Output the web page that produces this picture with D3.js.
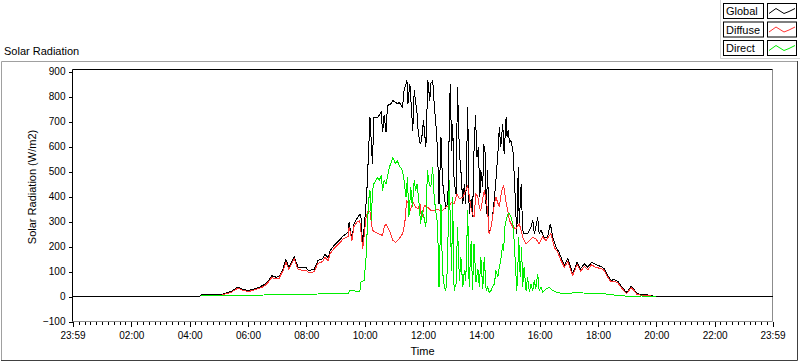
<!DOCTYPE html>
<html>
<head>
<meta charset="utf-8">
<script src="https://cdn.jsdelivr.net/npm/d3@7"></script>
<style>
  body { margin: 0; background: #fff; }
  svg { display: block; font-family: "Liberation Sans", Arial, sans-serif; font-size: 11px; }
</style>
</head>
<body>
<svg id="chart" width="800" height="361"></svg>
<script>
// series names + colours, as in the legend
const seriesNames = ['Global', 'Diffuse', 'Direct'];
const seriesColors = ['#000000', '#ff3333', '#00ee00'];

const yTicks = [-100, 0, 100, 200, 300, 400, 500, 600, 700, 800, 900];
const xTickLabels = ['23:59', '02:00', '04:00', '06:00', '08:00', '10:00', '12:00',
  '14:00', '16:00', '18:00', '20:00', '22:00', '23:59'];

// Global (W/m2)
const globalTime = ['00:00', '04:20', '04:23', '05:05', '05:11', '05:25', '05:39', '05:52', '06:02', '06:10',
  '06:23', '06:33', '06:41', '06:49', '06:58', '07:04', '07:12', '07:18', '07:24', '07:35',
  '07:43', '07:49', '07:59', '08:05', '08:16', '08:24', '08:34', '08:38', '08:45', '08:49',
  '08:57', '09:07', '09:17', '09:26', '09:28', '09:34', '09:38', '09:44', '09:48', '09:52',
  '09:56', '09:59', '10:04', '10:07', '10:11', '10:16', '10:19', '10:27', '10:34', '10:37',
  '10:40', '10:44', '10:47', '10:54', '10:58', '11:01', '11:08', '11:11', '11:18', '11:21',
  '11:27', '11:29', '11:33', '11:39', '11:42', '11:48', '11:50', '11:54', '11:57', '12:01',
  '12:06', '12:10', '12:14', '12:16', '12:20', '12:23', '12:27', '12:30', '12:33', '12:37',
  '12:40', '12:44', '12:47', '12:51', '12:54', '12:56', '12:59', '13:01', '13:04', '13:08',
  '13:11', '13:15', '13:18', '13:22', '13:25', '13:28', '13:32', '13:35', '13:39', '13:42',
  '13:45', '13:48', '13:51', '13:54', '13:57', '13:59', '14:03', '14:05', '14:08', '14:10',
  '14:13', '14:16', '14:20', '14:23', '14:27', '14:30', '14:34', '14:37', '14:40', '14:44',
  '14:47', '14:51', '14:53', '14:55', '14:58', '15:01', '15:05', '15:08', '15:11', '15:13',
  '15:16', '15:18', '15:22', '15:25', '15:28', '15:35', '15:42', '15:46', '15:49', '15:52',
  '15:56', '15:59', '16:03', '16:09', '16:16', '16:22', '16:27', '16:34', '16:40', '16:44',
  '16:51', '16:58', '17:08', '17:17', '17:24', '17:32', '17:39', '17:47', '17:56', '18:06',
  '18:13', '18:20', '18:27', '18:33', '18:41', '18:47', '18:58', '19:01', '19:08', '19:13',
  '19:20', '19:28', '19:39', '19:49', '19:56', '19:59', '23:59'];
const globalValue = [0, 0, 6, 8, 12, 20, 37, 27, 24, 29,
  37, 47, 61, 83, 77, 80, 111, 147, 117, 160,
  117, 116, 116, 104, 109, 144, 151, 168, 155, 184,
  204, 224, 244, 257, 297, 228, 291, 311, 324, 330,
  197, 277, 397, 532, 717, 532, 717, 717, 737, 657,
  724, 657, 764, 771, 784, 780, 771, 777, 757, 824,
  864, 771, 851, 664, 824, 731, 664, 611, 624, 704,
  597, 864, 784, 851, 864, 771, 677, 584, 371, 637,
  464, 397, 357, 371, 664, 851, 584, 691, 464, 411,
  837, 571, 504, 371, 451, 371, 757, 331, 390, 317,
  584, 724, 557, 597, 397, 504, 437, 611, 571, 331,
  504, 251, 277, 317, 397, 464, 571, 677, 597, 691,
  571, 717, 637, 664, 617, 624, 584, 477, 331, 251,
  517, 291, 451, 264, 251, 251, 277, 304, 251, 277,
  317, 251, 264, 237, 237, 291, 237, 197, 177, 157,
  124, 151, 91, 137, 111, 131, 117, 137, 127, 120,
  111, 84, 64, 68, 61, 44, 17, 21, 40, 31,
  13, 8, 7, 4, 1, 0, 0];

// Diffuse (W/m2)
const diffuseTime = ['04:23', '05:05', '05:11', '05:25', '05:39', '05:52', '06:02', '06:10', '06:23', '06:33',
  '06:41', '06:49', '06:58', '07:04', '07:12', '07:18', '07:24', '07:35', '07:43', '07:49',
  '07:59', '08:05', '08:16', '08:24', '08:34', '08:38', '08:45', '08:49', '08:57', '09:07',
  '09:17', '09:26', '09:28', '09:34', '09:38', '09:44', '09:50', '09:56', '10:03', '10:07',
  '10:11', '10:16', '10:29', '10:37', '10:40', '10:44', '10:51', '10:58', '11:04', '11:11',
  '11:18', '11:21', '11:24', '11:26', '11:31', '11:34', '11:39', '11:45', '11:50', '11:54',
  '11:57', '12:03', '12:10', '12:16', '12:30', '12:40', '12:47', '12:54', '12:59', '13:04',
  '13:10', '13:15', '13:22', '13:25', '13:32', '13:39', '13:42', '13:45', '13:49', '13:53',
  '13:56', '13:59', '14:03', '14:06', '14:10', '14:13', '14:16', '14:20', '14:23', '14:27',
  '14:30', '14:37', '14:42', '14:46', '14:51', '14:58', '15:05', '15:11', '15:18', '15:22',
  '15:25', '15:32', '15:39', '15:46', '15:52', '15:59', '16:06', '16:13', '16:23', '16:30',
  '16:37', '16:44', '16:51', '16:58', '17:08', '17:17', '17:24', '17:32', '17:39', '17:47',
  '17:56', '18:06', '18:13', '18:20', '18:27', '18:33', '18:41', '18:47', '18:58', '19:01',
  '19:08', '19:13', '19:20', '19:28', '19:39', '19:49', '19:56'];
const diffuseValue = [4, 5, 9, 16, 33, 23, 20, 25, 32, 41,
  55, 76, 70, 73, 103, 138, 109, 151, 108, 106,
  105, 95, 99, 133, 140, 156, 144, 172, 192, 212,
  232, 240, 277, 224, 280, 297, 304, 191, 317, 344,
  337, 264, 251, 244, 277, 291, 264, 224, 217, 231,
  251, 277, 317, 384, 371, 344, 377, 357, 351, 371,
  311, 364, 357, 344, 347, 344, 357, 364, 377, 371,
  411, 391, 397, 411, 444, 350, 331, 317, 411, 397,
  357, 344, 391, 424, 384, 344, 251, 277, 317, 371,
  397, 357, 424, 444, 377, 304, 277, 271, 291, 264,
  237, 211, 224, 237, 231, 211, 237, 224, 251, 197,
  177, 144, 117, 140, 84, 128, 101, 120, 107, 127,
  116, 112, 104, 78, 58, 62, 55, 38, 13, 16,
  35, 26, 9, 5, 4, 2, 0];

// Direct (W/m2)
const directTime = ['04:23', '05:11', '06:00', '06:49', '07:35', '08:24', '09:07', '09:26', '09:30', '09:40',
  '09:50', '09:52', '09:59', '10:03', '10:06', '10:09', '10:11', '10:14', '10:16', '10:19',
  '10:27', '10:30', '10:34', '10:37', '10:40', '10:44', '10:51', '10:58', '11:03', '11:07',
  '11:11', '11:18', '11:21', '11:25', '11:28', '11:31', '11:35', '11:38', '11:42', '11:45',
  '11:48', '11:52', '11:55', '11:58', '12:02', '12:06', '12:09', '12:13', '12:16', '12:20',
  '12:23', '12:27', '12:30', '12:33', '12:37', '12:40', '12:44', '12:47', '12:50', '12:54',
  '12:56', '12:59', '13:01', '13:04', '13:08', '13:11', '13:15', '13:18', '13:22', '13:25',
  '13:28', '13:32', '13:35', '13:39', '13:42', '13:45', '13:49', '13:53', '13:56', '13:59',
  '14:03', '14:06', '14:10', '14:13', '14:16', '14:20', '14:23', '14:27', '14:30', '14:34',
  '14:37', '14:40', '14:44', '14:46', '14:48', '14:51', '14:55', '14:58', '15:01', '15:05',
  '15:08', '15:10', '15:13', '15:15', '15:17', '15:20', '15:23', '15:25', '15:28', '15:32',
  '15:35', '15:39', '15:42', '15:46', '15:49', '15:52', '15:56', '15:59', '16:03', '16:06',
  '16:13', '16:20', '16:27', '16:34', '16:44', '16:58', '17:17', '17:30', '17:46', '18:12',
  '18:27', '18:47', '19:00', '19:30', '19:59'];
const directValue = [2, 4, 4, 7, 8, 10, 11, 12, 24, 22,
  19, 57, 64, 157, 304, 397, 424, 304, 424, 451,
  477, 464, 484, 424, 464, 451, 517, 557, 531, 544,
  524, 504, 464, 397, 477, 317, 437, 357, 464, 424,
  451, 371, 291, 344, 317, 277, 504, 451, 437, 517,
  397, 331, 291, 37, 371, 104, 37, 24, 104, 464,
  317, 104, 397, 24, 51, 277, 64, 157, 37, 104,
  64, 344, 37, 220, 28, 210, 57, 110, 37, 157,
  31, 157, 24, 37, 17, 24, 37, 51, 104, 77,
  117, 144, 211, 184, 277, 304, 331, 331, 317, 291,
  211, 131, 24, 104, 237, 77, 197, 37, 117, 24,
  77, 17, 51, 24, 64, 31, 91, 24, 37, 17,
  31, 37, 24, 17, 13, 11, 17, 14, 11, 11,
  7, 4, 1, 2, 0];

const svg = d3.select('#chart');
const width = 800, height = 361;
const plot = {left: 72.5, right: 772.5, top: 71.5, bottom: 321.5};

const parseTime = d3.timeParse('%H:%M');
const fmt = d3.timeFormat('%H:%M');
const dayEnd = parseTime('23:59');
const dayStart = d3.timeMinute.offset(parseTime('00:00'), -1);

const x = d3.scaleTime().domain([dayStart, dayEnd]).range([plot.left, plot.right]);
const y = d3.scaleLinear().domain([-100, 900]).range([plot.bottom, plot.top]);

// outer panel frame
svg.append('path')
  .attr('d', `M1.5,360 V61.5 H797`)
  .attr('fill', 'none').attr('stroke', '#a0a0a0');
svg.append('path')
  .attr('d', `M1,360.5 H797.5 V61`)
  .attr('fill', 'none').attr('stroke', '#404040');

svg.append('text')
  .attr('x', 4).attr('y', 55)
  .attr('fill', '#000')
  .text('Solar Radiation');

// plot frame: top/left black, right/bottom grey
svg.append('path')
  .attr('d', `M${plot.right},${plot.bottom} V${plot.top - 2} `)
  .attr('fill', 'none').attr('stroke', '#8c8c8c');
svg.append('path')
  .attr('d', `M${plot.left},${plot.bottom} H${plot.right}`)
  .attr('fill', 'none').attr('stroke', '#8c8c8c');
svg.append('path')
  .attr('d', `M${plot.left},${plot.bottom} V${plot.top - 2} H${plot.right}`)
  .attr('fill', 'none').attr('stroke', '#000');

// y axis
const yAxis = d3.axisLeft(y).tickValues(yTicks).tickSize(4).tickPadding(3).tickFormat(d3.format('d'));
const gy = svg.append('g').attr('transform', `translate(${plot.left},0)`).call(yAxis);
gy.select('.domain').remove();
gy.selectAll('text').attr('font-family', null).attr('font-size', null).attr('fill', '#000');

// x axis: minor ticks every 12 minutes, major every 2 hours
const minorTicks = d3.timeMinute.every(12).range(parseTime('00:00'), dayEnd);
const xMinor = d3.axisBottom(x).tickValues(minorTicks).tickSize(3).tickFormat('');
const gxm = svg.append('g').attr('transform', `translate(0,${plot.bottom})`).call(xMinor);
gxm.select('.domain').remove();

const majorTicks = xTickLabels.map((s, i) => i === 0 ? dayStart : parseTime(s));
const xAxis = d3.axisBottom(x).tickValues(majorTicks).tickSize(5).tickPadding(5).tickFormat(fmt);
const gx = svg.append('g').attr('transform', `translate(0,${plot.bottom})`).call(xAxis);
gx.select('.domain').remove();
gx.selectAll('text').attr('font-family', null).attr('font-size', null).attr('fill', '#000');
svg.selectAll('.tick line').attr('stroke', '#000').attr('shape-rendering', 'crispEdges');

// axis titles
svg.append('text')
  .attr('x', (plot.left + plot.right) / 2).attr('y', 355)
  .attr('text-anchor', 'middle').text('Time');
svg.append('text')
  .attr('transform', `translate(36,${187}) rotate(-90)`)
  .attr('text-anchor', 'middle').text('Solar Radiation (W/m2)');

// data lines
const series = [
  {name: seriesNames[0], color: seriesColors[0], time: globalTime, value: globalValue},
  {name: seriesNames[1], color: seriesColors[1], time: diffuseTime, value: diffuseValue},
  {name: seriesNames[2], color: seriesColors[2], time: directTime, value: directValue}
];
const line = d3.line().x(d => x(d.t)).y(d => y(d.v));

series.forEach(s => {
  const pts = s.time.map((t, i) => ({t: parseTime(t), v: s.value[i]}));
  svg.append('path')
    .datum(pts)
    .attr('d', line)
    .attr('fill', 'none')
    .attr('stroke', s.color)
    .attr('stroke-width', 1)
    .attr('shape-rendering', 'crispEdges');
});

// legend
const legend = svg.append('g');
legend.append('path')
  .attr('d', 'M720.5,0 V58.5 H800')
  .attr('fill', 'none').attr('stroke', '#d4d4d4');
const glyph = [[2, 10], [9, 5], [17, 10], [22, 8], [28, 5]];
const gx2 = d3.scaleLinear().domain([0, 30]).range([767, 797]);
series.forEach((s, i) => {
  const top = 3.5 + i * 18.5;
  legend.append('rect')
    .attr('x', 723.5).attr('y', top).attr('width', 40).attr('height', 15)
    .attr('fill', '#fff').attr('stroke', '#000');
  legend.append('text')
    .attr('x', 726).attr('y', top + 11.5).text(s.name);
  legend.append('rect')
    .attr('x', 767.5).attr('y', top).attr('width', 29).attr('height', 15)
    .attr('fill', '#fff').attr('stroke', '#000');
  legend.append('path')
    .attr('d', d3.line().x(p => gx2(p[0])).y(p => top + p[1])(glyph))
    .attr('fill', 'none').attr('stroke', s.color);
});
</script>
</body>
</html>
